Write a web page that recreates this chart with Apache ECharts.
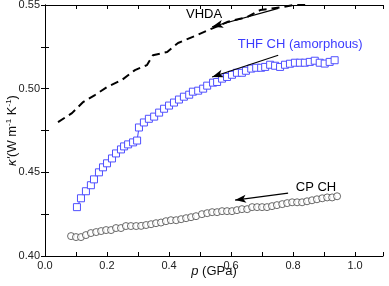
<!DOCTYPE html>
<html>
<head>
<meta charset="utf-8">
<script src="https://cdn.jsdelivr.net/npm/echarts@6/dist/echarts.min.js"></script>
<style>html,body{margin:0;padding:0;background:#fff}#c{width:389px;height:286px}</style>
</head>
<body>
<div id="c"></div>
<script>
// ---- data ----
const vhdaX = [0.042,0.087,0.123,0.161,0.200,0.248,0.290,0.329,0.348,0.394,0.429,0.484,0.542,0.590,0.652,0.694,0.768,0.800,0.832,0.855];
const vhdaY = [0.4800,0.4854,0.4920,0.4962,0.5010,0.5052,0.5111,0.5141,0.5200,0.5219,0.5273,0.5315,0.5362,0.5400,0.5428,0.5470,0.5488,0.5500,0.5506,0.5500];

const thfX = [0.103,0.116,0.132,0.148,0.158,0.174,0.187,0.200,0.216,0.229,0.245,0.255,0.268,0.284,0.297,0.303,0.319,0.335,0.352,0.368,0.384,0.400,0.416,0.432,0.448,0.465,0.477,0.494,0.510,0.523,0.542,0.555,0.571,0.587,0.603,0.619,0.635,0.648,0.665,0.681,0.697,0.710,0.726,0.742,0.758,0.774,0.790,0.806,0.822,0.838,0.854,0.870,0.886,0.902,0.918,0.934];
const thfY = [0.4292,0.4345,0.4387,0.4423,0.4458,0.4500,0.4530,0.4554,0.4583,0.4613,0.4637,0.4655,0.4667,0.4679,0.4690,0.4768,0.4798,0.4820,0.4833,0.4857,0.4880,0.4899,0.4917,0.4935,0.4952,0.4964,0.4982,0.4988,0.5000,0.5018,0.5036,0.5040,0.5060,0.5070,0.5083,0.5095,0.5095,0.5107,0.5120,0.5125,0.5125,0.5130,0.5143,0.5137,0.5130,0.5143,0.5149,0.5155,0.5155,0.5155,0.5160,0.5167,0.5155,0.5150,0.5160,0.5170];

const cpX = [0.084,0.100,0.116,0.132,0.148,0.165,0.181,0.197,0.213,0.229,0.245,0.261,0.277,0.294,0.310,0.326,0.342,0.358,0.374,0.390,0.406,0.423,0.439,0.455,0.471,0.487,0.506,0.523,0.539,0.555,0.571,0.587,0.603,0.619,0.635,0.652,0.668,0.684,0.700,0.716,0.732,0.748,0.765,0.781,0.797,0.813,0.829,0.845,0.861,0.877,0.894,0.910,0.926,0.942];
const cpY = [0.4119,0.4113,0.4113,0.4125,0.4137,0.4143,0.4149,0.4155,0.4155,0.4167,0.4167,0.4179,0.4179,0.4179,0.4180,0.4185,0.4190,0.4196,0.4200,0.4208,0.4214,0.4214,0.4220,0.4226,0.4232,0.4238,0.4250,0.4256,0.4262,0.4262,0.4268,0.4268,0.4268,0.4274,0.4280,0.4280,0.4292,0.4292,0.4292,0.4292,0.4298,0.4304,0.4310,0.4316,0.4321,0.4321,0.4321,0.4327,0.4333,0.4339,0.4345,0.4350,0.4350,0.4357];

// annotation arrows: [tail, head]
const vhdaArrow = [[0.752,0.548],[0.539,0.537]];
const thfArrow  = [[0.752,0.520],[0.539,0.507]];
const cpArrow   = [[0.784,0.4376],[0.613,0.4334]];
// annotation labels
const vhdaLabel = {text:'VHDA', pos:[0.513,0.5446]};
const thfLabel  = {text:'THF CH (amorphous)', pos:[0.823,0.5267]};
const cpLabel   = {text:'CP CH', pos:[0.874,0.4412]};

const xTicksLabelled = [0.0,0.2,0.4,0.6,0.8,1.0];
const yTicksLabelled = [0.40,0.45,0.50,0.55];

// ---- chart ----
const zip = (a,b)=>a.map((v,i)=>[v,b[i]]);
const isIn = (v, arr)=>arr.some(t=>Math.abs(t-v)<1e-6);
const FONT = '"Liberation Sans", Arial, sans-serif';
const BLUE = '#3c3cff';

function arrowML(a){
  return {
    silent:true,
    label:{show:false},
    lineStyle:{color:'#000', width:1.2, type:'solid'},
    emphasis:{disabled:true},
    data:[[{coord:a[0], symbol:'none'},{coord:a[1], symbol:'arrow', symbolSize:[6,11]}]]
  };
}
function labelMP(l,color){
  return {
    silent:true, symbol:'circle', symbolSize:0,
    label:{show:true, formatter:l.text, color:color, fontSize:13, fontFamily:FONT, position:'inside'},
    data:[{coord:l.pos}]
  };
}

const baseX = {min:0, max:1.09, interval:0.1, axisLine:{lineStyle:{color:'#000',width:1}},
  axisTick:{inside:true,length:4,lineStyle:{color:'#000'}}, splitLine:{show:false}};
const baseY = {min:0.40, max:0.55, interval:0.025, axisLine:{lineStyle:{color:'#000',width:1}},
  axisTick:{inside:true,length:4,lineStyle:{color:'#000'}}, splitLine:{show:false}};

const chart = echarts.init(document.getElementById('c'), null, {renderer:'canvas'});
chart.setOption({
  animation:false,
  grid:{left:45, right:6, top:5, bottom:30, containLabel:false, outerBoundsMode:'none'},
  xAxis:[
    Object.assign({}, baseX, {type:'value', position:'bottom',
      name:'{i|p} (GPa)', nameLocation:'middle', nameGap:9, nameMoveOverlap:false,
      nameTextStyle:{color:'#111', fontSize:13, fontFamily:FONT, rich:{i:{fontStyle:'italic', fontSize:13, fontFamily:FONT, color:'#111'}}},
      axisLabel:{color:'#222', fontSize:11, fontFamily:FONT, margin:4, showMaxLabel:true,
        formatter:v=>isIn(v,xTicksLabelled)?v.toFixed(1):''}}),
    Object.assign({}, baseX, {type:'value', position:'top', axisLabel:{show:false}})
  ],
  yAxis:[
    Object.assign({}, baseY, {type:'value', position:'left',
      name:"{i|κ'}(W m{s|-1} K{s|-1})", nameLocation:'middle', nameGap:26, nameMoveOverlap:false,
      nameTextStyle:{color:'#111', fontSize:13, fontFamily:FONT,
        rich:{i:{fontStyle:'italic', fontSize:13, fontFamily:FONT, color:'#111'},
              s:{fontSize:8, fontFamily:FONT, color:'#111', verticalAlign:'top', padding:[0,0,6,0]}}},
      axisLabel:{color:'#222', fontSize:11, fontFamily:FONT, margin:5,
        formatter:v=>isIn(v,yTicksLabelled)?v.toFixed(2):''}}),
    Object.assign({}, baseY, {type:'value', position:'right', axisLabel:{show:false}})
  ],
  series:[
    {name:'VHDA', type:'line', data:zip(vhdaX,vhdaY), showSymbol:false, symbol:'none',
     lineStyle:{color:'#000', width:2, type:[8,5]}, clip:true,
     markLine:arrowML(vhdaArrow), markPoint:labelMP(vhdaLabel,'#000')},
    {name:'THF', type:'line', data:zip(thfX,thfY), symbol:'rect', symbolSize:7, showAllSymbol:true,
     lineStyle:{color:BLUE, width:1}, itemStyle:{color:'#fff', borderColor:'#5050ff', borderWidth:1},
     markLine:arrowML(thfArrow), markPoint:labelMP(thfLabel,BLUE)},
    {name:'CP', type:'scatter', data:zip(cpX,cpY), symbol:'circle', symbolSize:7,
     itemStyle:{color:'#fff', borderColor:'#444', borderWidth:1},
     markLine:arrowML(cpArrow), markPoint:labelMP(cpLabel,'#000')}
  ]
});
</script>
</body>
</html>
